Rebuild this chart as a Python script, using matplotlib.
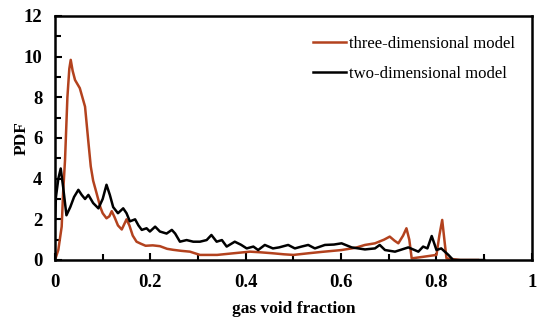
import matplotlib.pyplot as plt
import numpy as np

# three-dimensional model
x3d = [0.0, 0.007, 0.014, 0.017, 0.021, 0.026, 0.030, 0.033, 0.037, 0.042, 0.052, 0.063,
       0.070, 0.075, 0.080, 0.087, 0.095, 0.100, 0.108, 0.114, 0.119, 0.125, 0.132, 0.140,
       0.146, 0.150, 0.156, 0.163, 0.171, 0.180, 0.190, 0.205, 0.220, 0.235, 0.248, 0.265,
       0.283, 0.304, 0.320, 0.340, 0.374, 0.409, 0.430, 0.457, 0.480, 0.500, 0.531, 0.560,
       0.601, 0.630, 0.650, 0.671, 0.690, 0.702, 0.712, 0.720, 0.730, 0.737, 0.743, 0.748,
       0.770, 0.800, 0.806, 0.812, 0.817, 0.821, 0.850, 0.887]
y3d = [0.0, 0.5, 1.64, 3.3, 4.9, 8.0, 9.4, 9.84, 9.3, 8.85, 8.45, 7.54,
       5.8, 4.6, 3.9, 3.3, 2.6, 2.3, 2.05, 2.15, 2.4, 2.1, 1.7, 1.5,
       1.8, 2.0, 1.7, 1.2, 0.9, 0.8, 0.7, 0.72, 0.68, 0.55, 0.5, 0.45,
       0.41, 0.25, 0.25, 0.25, 0.33, 0.41, 0.38, 0.33, 0.28, 0.25, 0.33, 0.40,
       0.49, 0.60, 0.74, 0.82, 1.0, 1.15, 0.95, 0.82, 1.2, 1.56, 1.0, 0.08,
       0.15, 0.25, 1.2, 1.97, 0.9, 0.08, 0.0, 0.0]

# two-dimensional model
x2d = [0.0, 0.002, 0.007, 0.012, 0.017, 0.024, 0.032, 0.040, 0.049, 0.056, 0.063, 0.070,
       0.080, 0.091, 0.100, 0.108, 0.115, 0.122, 0.132, 0.143, 0.150, 0.157, 0.168, 0.175,
       0.182, 0.192, 0.199, 0.210, 0.220, 0.234, 0.245, 0.252, 0.262, 0.276, 0.290, 0.304,
       0.318, 0.328, 0.339, 0.350, 0.360, 0.377, 0.390, 0.402, 0.416, 0.426, 0.440, 0.457,
       0.470, 0.489, 0.503, 0.517, 0.531, 0.545, 0.566, 0.585, 0.601, 0.622, 0.650, 0.671,
       0.681, 0.692, 0.713, 0.741, 0.762, 0.772, 0.781, 0.790, 0.800, 0.810, 0.825, 0.835,
       0.870, 0.900]
y2d = [2.0, 3.1, 4.0, 4.5, 3.6, 2.2, 2.6, 3.1, 3.45, 3.2, 3.0, 3.2,
       2.8, 2.54, 3.0, 3.7, 3.2, 2.6, 2.3, 2.54, 2.3, 1.9, 2.0, 1.7,
       1.48, 1.56, 1.4, 1.64, 1.4, 1.3, 1.48, 1.3, 0.9, 0.98, 0.9, 0.9,
       0.98, 1.23, 0.9, 0.98, 0.66, 0.9, 0.75, 0.57, 0.66, 0.49, 0.74, 0.57,
       0.62, 0.74, 0.57, 0.66, 0.74, 0.57, 0.74, 0.76, 0.82, 0.62, 0.52, 0.57,
       0.74, 0.49, 0.41, 0.62, 0.41, 0.66, 0.57, 1.18, 0.49, 0.57, 0.25, 0.0,
       0.0, 0.0]

plt.rcParams['font.family'] = ['Liberation Serif', 'DejaVu Serif']

fig = plt.figure(figsize=(5.5, 3.25), dpi=100)
ax = fig.add_axes([0.1, 0.2, 0.867, 0.751])

ax.plot(x3d, y3d, color='#b3421e', lw=1.8, label='three-dimensional model')
ax.plot(x2d, y2d, color='black', lw=1.8, label='two-dimensional model')

ax.set_xlim(0, 1)
ax.set_ylim(0, 12)
ax.set_xticks([0, 0.2, 0.4, 0.6, 0.8, 1])
ax.set_xticklabels(['0', '0.2', '0.4', '0.6', '0.8', '1'])
ax.set_xticks(np.arange(0.1, 1, 0.2), minor=True)
ax.set_yticks(range(0, 13, 2))
ax.set_yticks(range(1, 12, 2), minor=True)
ax.tick_params(which='both', direction='in', width=1.5, labelsize=13.5)
ax.tick_params(axis='x', which='major', pad=10)
ax.tick_params(axis='y', which='major', pad=9)
ax.tick_params(which='major', length=5)
ax.tick_params(which='minor', length=4)
for lab in ax.get_xticklabels() + ax.get_yticklabels():
    lab.set_fontweight('bold')
for s in ax.spines.values():
    s.set_linewidth(1.8)

ax.set_xlabel('gas void fraction', fontsize=12.5, fontweight='bold', labelpad=7)
ax.set_ylabel('PDF', fontsize=12.5, fontweight='bold', labelpad=-4)

ax.legend(loc='upper right', bbox_to_anchor=(0.997, 0.98), frameon=False, fontsize=12,
          handlelength=2.0, handletextpad=0.2, labelspacing=0.85)

fig.savefig('out.png', dpi=100)
